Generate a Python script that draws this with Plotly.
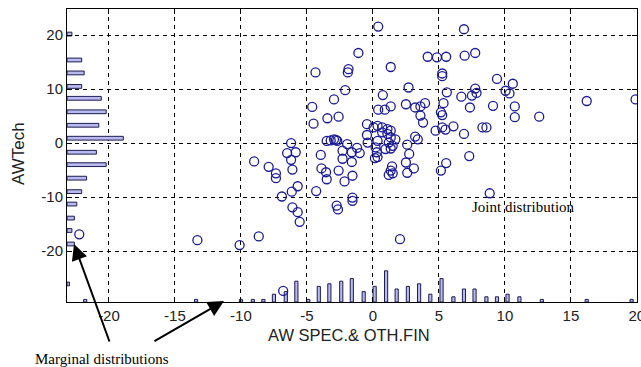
import plotly.graph_objects as go

# ---- data ----
scatter_x = [0.4, 6.9, -1.1, -1.85, -1.9, 1.35, 4.15, 4.85, 5.55, 6.95, 7.75, 5.25, 5.25, -4.35,
             2.7, -2.1, -2.95, 0.75, 5.6, 7.75, 7.85, 7.5, 6.7, 9.4, 10.6, 10.05, 10.35,
             -4.6, 1.35, 0.4, 0.9, 2.5, 3.2, 3.6, 3.95, 5.35, 7.35, 9.1, 10.75, 16.2, 19.9,
             -4.5, -3.45, -2.6, 3.6, 3.8, 5.15, 5.25, 10.75, 12.6,
             -0.45, 0.05, 0.35, 0.7, 1.1, 1.35, 0.7, 1.1, 1.35, 1.7, 1.2, 0.35, -0.45,
             4.75, 5.25, 6.1, 6.9, 8.6, 3.2, 3.4, 2.6, 2.75, 2.5, 3.1, 2.6, 5.15, 5.55, 7.3,
             8.85, 2.05, 1.35, 0.95, 0.3, 0.35, 0.15, 1.45, 1.35, 1.5, -0.4, 0.2,
             -3.5, -3.2, -2.95, -2.7, -1.95, -1.2, -1.6, -1.0, -2.3, -3.95, -2.3, -1.6,
             -6.2, -6.5, -5.85, -6.2, -6.1, -9.0, -7.9, -7.35, -7.35, -3.9, -3.55, -3.5,
             -2.6, -2.15, -1.55, -6.9, -6.15, -5.7, -4.3, -6.1, -5.7, -5.55, -2.75, -2.65,
             -1.55, -1.55, -10.1, -8.65, -13.3, -22.25, -6.8, 1.5, 1.2, 5.5, 8.3, -2.8]
scatter_y = [21.6, 21.1, 16.7, 13.7, 13.1, 14.1, 16.0, 15.9, 16.0, 16.2, 16.7, 12.9, 12.4, 13.1,
             10.3, 9.8, 8.1, 8.9, 9.4, 10.1, 9.3, 8.8, 8.6, 11.9, 11.0, 9.7, 9.2,
             6.7, 6.8, 6.2, 6.2, 7.2, 6.6, 6.8, 7.4, 7.4, 6.6, 6.9, 6.8, 7.8, 8.1,
             3.6, 4.6, 4.9, 5.1, 3.8, 5.7, 5.2, 4.8, 4.9,
             3.5, 2.9, 3.2, 2.9, 2.6, 2.3, 2.0, 1.7, 1.05, 0.7, 0.1, 0.4, 1.5,
             2.3, 2.9, 3.1, 1.7, 2.9, 1.2, 0.7, -0.3, -2.0, -3.6, -4.7, -5.5, -5.1, -3.7, -2.4,
             -9.3, -17.8, -1.0, -1.1, -1.7, -2.6, -2.8, -4.3, -5.1, -5.6, 0.1, -0.8,
             0.4, 0.5, 0.7, 0.4, -0.2, -0.9, -1.7, -1.85, -1.4, -2.2, -2.9, -3.5,
             0.0, -1.85, -1.7, -3.1, -4.9, -3.4, -4.4, -5.6, -6.5, -4.7, -5.4, -6.7,
             -5.1, -7.1, -6.05, -9.9, -9.0, -8.0, -8.9, -11.9, -12.8, -14.6, -11.6, -12.3,
             -10.1, -10.7, -18.9, -17.3, -18.0, -16.9, -27.4, -0.5, -5.9, 2.5, 2.9, 0.6]

# marginal distribution of x (bottom histogram)
xhist_centers = [-21.8, -13.4, -10.0, -9.1, -8.3, -7.5, -6.6, -5.8, -4.9, -4.1, -3.3, -2.4,
                 -1.6, -0.7, 0.13, 1.0, 1.8, 2.65, 3.5, 4.35, 5.2, 6.1, 6.9, 7.7, 8.6, 9.4,
                 10.2, 11.1, 12.8, 16.2, 19.6]
xhist_counts = [1, 1, 1, 1, 1, 3, 4, 8, 1, 6, 7, 8, 9, 4, 6, 12, 5, 6, 7, 3, 9, 2, 5, 5, 2, 2,
                3, 2, 1, 1, 1]

# marginal distribution of y (left histogram)
yhist_centers = [20.2, 15.4, 13.0, 10.5, 8.3, 5.8, 3.3, 0.9, -1.7, -4.0, -6.5, -9.0, -11.3,
                 -13.9, -16.2, -18.7, -26.1]
yhist_counts = [2, 6, 7, 6, 14, 16, 13, 23, 12, 16, 8, 6, 4, 3, 2, 3, 1]

x_ticks = [-20, -15, -10, -5, 0, 5, 10, 15, 20]
y_ticks = [-20, -10, 0, 10, 20]

# ---- styling / scales ----
XMIN, XMAX = -23.18, 20.01
YMIN, YMAX = -29.45, 24.85
XHIST_SCALE = 0.482   # y-units per count
YHIST_SCALE = 0.1856  # x-units per count

bar_fill = "#b9b9f0"
bar_line = "#1c1c50"
marker_col = "#1a1a96"

fig = go.Figure()

fig.add_trace(go.Bar(
    x=xhist_centers, y=[c * XHIST_SCALE for c in xhist_counts], base=YMIN,
    width=0.24, marker=dict(color=bar_fill, line=dict(color=bar_line, width=1)),
    showlegend=False, hoverinfo="skip"))

fig.add_trace(go.Bar(
    y=yhist_centers, x=[c * YHIST_SCALE for c in yhist_counts], base=XMIN,
    orientation="h", width=0.7,
    marker=dict(color=bar_fill, line=dict(color=bar_line, width=1)),
    showlegend=False, hoverinfo="skip"))

fig.add_trace(go.Scatter(
    x=scatter_x, y=scatter_y, mode="markers",
    marker=dict(symbol="circle-open", size=9, color=marker_col, line=dict(width=1.3)),
    showlegend=False))

axis_common = dict(
    showgrid=True, gridcolor="#000000", griddash="4px,4px", gridwidth=1,
    zeroline=False, showline=True, linecolor="#000000", linewidth=1, mirror="ticks",
    ticks="inside", ticklen=5, tickcolor="#000000", automargin=False,
    ticklabeloverflow="allow",
    tickfont=dict(family="Liberation Sans, Arial", size=15, color="#222222"))

fig.update_xaxes(range=[XMIN, XMAX], tickvals=x_ticks, ticktext=[str(v) for v in x_ticks],
                 **axis_common)
fig.update_yaxes(range=[YMIN, YMAX], tickvals=y_ticks, ticktext=[str(v) for v in y_ticks],
                 **axis_common)

L, R, T, B = 67, 4, 9, 65
W, H = 641, 367
pw, ph = W - L - R, H - T - B


def px2paper(px, py):
    return (px - L) / pw, (H - B - py) / ph


def text_annot(text, px, py, family, size, color, angle=0):
    p = px2paper(px, py)
    return dict(text=text, x=p[0], y=p[1], xref="paper", yref="paper", showarrow=False,
                xanchor="center", yanchor="middle", textangle=angle,
                font=dict(family=family, size=size, color=color))


sans = "Liberation Sans, Arial"
serif = "Liberation Serif, Times New Roman"
annots = [
    text_annot("AW SPEC.& OTH.FIN", 349, 335, sans, 16.5, "#222"),
    text_annot("AWTech", 18, 154, sans, 17, "#222", angle=-90),
    text_annot("Joint distribution", 523, 207, serif, 15, "#000"),
    text_annot("Marginal distributions", 102, 359, serif, 15, "#000"),
]
for (tx, ty, sx, sy) in [(74, 244, 110, 343), (224, 301, 153, 342)]:
    p = px2paper(tx, ty)
    annots.append(dict(text="", x=p[0], y=p[1], xref="paper", yref="paper", showarrow=True,
                       ax=sx - tx, ay=sy - ty, axref="pixel", ayref="pixel",
                       arrowhead=2, arrowsize=1.6, arrowwidth=2, arrowcolor="#000"))

fig.update_layout(
    width=W, height=H, margin=dict(l=L, r=R, t=T, b=B),
    paper_bgcolor="white", plot_bgcolor="white", barmode="overlay",
    annotations=annots, template="none")

fig.write_html("out.html")
